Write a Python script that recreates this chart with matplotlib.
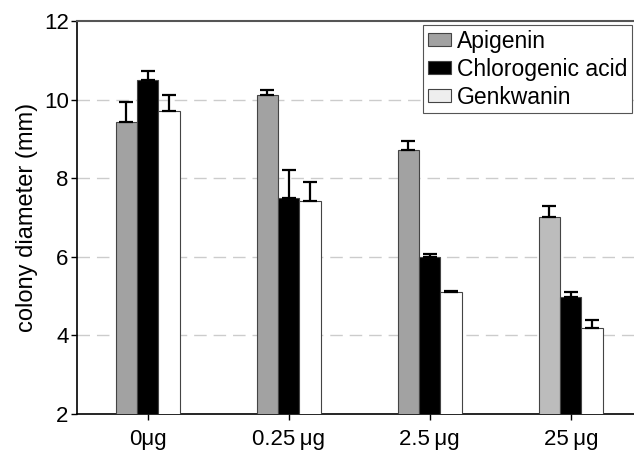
import numpy as np
from matplotlib import pyplot as plt

plt.rcParams['font.family'] = ['Liberation Sans', 'DejaVu Sans']

doses = ['0\u03bcg', '0.25\u2009\u03bcg', '2.5\u2009\u03bcg', '25\u2009\u03bcg']
compounds = ['Apigenin', 'Chlorogenic acid', 'Genkwanin']

apigenin = [9.42, 10.12, 8.72, 7.01]
apigenin_err = [0.51, 0.12, 0.23, 0.28]
chlorogenic = [10.50, 7.50, 5.99, 4.98]
chlorogenic_err = [0.22, 0.70, 0.08, 0.13]
genkwanin = [9.70, 7.42, 5.10, 4.19]
genkwanin_err = [0.43, 0.49, 0.02, 0.20]

means = [apigenin, chlorogenic, genkwanin]
errs = [apigenin_err, chlorogenic_err, genkwanin_err]
colours = [['#a2a2a2', '#a2a2a2', '#a2a2a2', '#bcbcbc'],
           ['black'] * 4,
           ['white'] * 4]

fig = plt.figure(figsize=(6.34, 4.54), dpi=100)
ax = fig.add_axes([0.1215, 0.0881, 0.89, 0.8656])

x = np.arange(len(doses))
w = 0.151
for i in range(3):
	ax.bar(x + (i - 1) * w, means[i], w, color=colours[i], edgecolor='#444444',
		   linewidth=0.8, label=compounds[i], zorder=3)
	ax.errorbar(x + (i - 1) * w, means[i], yerr=[np.zeros(4), errs[i]], fmt='none',
				ecolor='black', elinewidth=1.6, capsize=5, capthick=1.6, zorder=4)

ax.set_xlim(-0.5, 3.5)
ax.set_ylim(2, 12)
ax.set_yticks([2, 4, 6, 8, 10, 12])
ax.set_xticks(x)
ax.set_xticklabels(doses)
for yv in [4, 6, 8, 10]:
	ax.axhline(yv, color='#cccccc', linestyle=(0, (9, 5)), linewidth=1.0, zorder=1)

ax.tick_params(axis='both', direction='out', length=4, width=1, labelsize=16, pad=2)
ax.tick_params(axis='x', pad=7)
ax.spines['top'].set_color('#555555')
ax.spines['top'].set_linewidth(1.5)
ax.spines['right'].set_visible(False)
ax.spines['left'].set_linewidth(1.2)
ax.spines['bottom'].set_linewidth(1.2)
ax.set_ylabel('colony diameter (mm)', fontsize=17, labelpad=4)

leg = ax.legend(loc='upper left', bbox_to_anchor=(423 / 634, 1 - 25 / 454),
				bbox_transform=fig.transFigure, fontsize=16.5, frameon=True,
				fancybox=False, edgecolor='#555555', framealpha=1,
				handlelength=1.0, handleheight=0.5, handletextpad=0.3,
				labelspacing=0.22, borderpad=0.2, borderaxespad=0)
leg.get_frame().set_linewidth(0.8)
leg.legend_handles[2].set_facecolor('#eeeeee')

fig.savefig('out.png', dpi=100)
plt.close('all')
